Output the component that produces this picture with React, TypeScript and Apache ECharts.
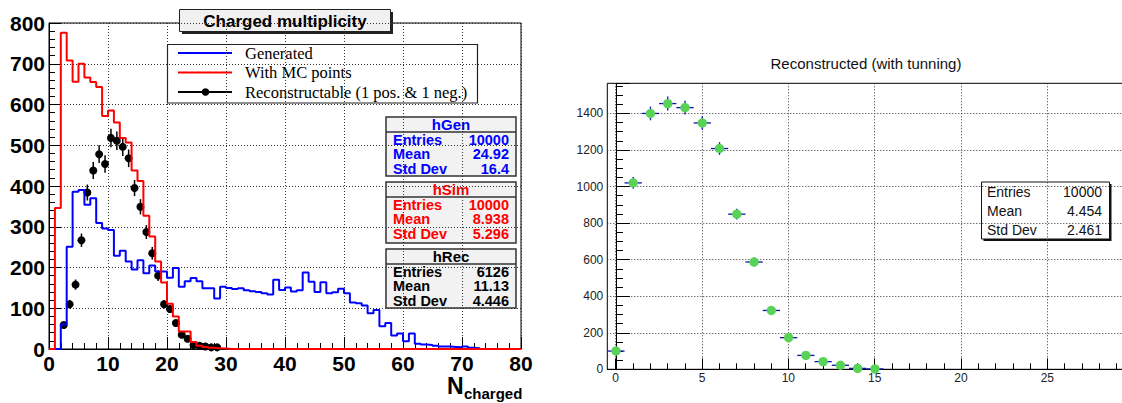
import React, { useEffect, useRef } from 'react';
import * as echarts from 'echarts';

const SANS = "'Liberation Sans', Arial, Helvetica, sans-serif";
const SERIF = "'Liberation Serif', 'Times New Roman', serif";

// ---- Left panel: unit-width bins starting at 0 (0..80) ----
const genCounts = [
  0, 0, 60, 251, 386, 390, 354, 370, 309, 296, 292, 229, 241, 215, 195, 218, 186, 205, 190, 190,
  175, 199, 153, 166, 174, 166, 149, 149, 124, 153, 150, 147, 149, 144, 142, 140, 137, 134, 170, 145,
  151, 141, 144, 188, 165, 140, 164, 137, 139, 148, 137, 114, 112, 107, 88, 96, 56, 64, 33, 38,
  19, 38, 13, 11, 10, 8, 6, 6, 5, 4, 6, 3, 2, 0, 0, 0, 0, 0, 0, 0,
];
const simCounts = [
  0, 346, 776, 708, 656, 700, 666, 655, 643, 572, 585, 556, 518, 507, 438, 412, 327, 276, 215, 163,
  111, 80, 43, 43, 17, 8, 5, 3, 2, 1, 0, 0, 0, 0, 0, 0, 0, 0, 0, 0,
  0, 0, 0, 0, 0, 0, 0, 0, 0, 0, 0, 0, 0, 0, 0, 0, 0, 0, 0, 0,
  0, 0, 0, 0, 0, 0, 0, 0, 0, 0, 0, 0, 0, 0, 0, 0, 0, 0, 0, 0,
];
const recBinStarts = [2, 3, 4, 5, 6, 7, 8, 9, 10, 11, 12, 13, 14, 15, 16, 17, 18, 19, 20, 21, 22, 23, 24, 25, 26, 27, 28];
const recCounts = [59, 110, 158, 267, 384, 438, 478, 454, 518, 511, 496, 468, 395, 349, 287, 235, 180, 110, 98, 64, 35, 25, 10, 8, 6, 4, 4];

const leftTitle = 'Charged multiplicity';
const legendLabels = ['Generated', 'With MC points', 'Reconstructable (1 pos. & 1 neg.)'];
const legendColors = ['#0000ff', '#ff0000', '#000000'];
const statTitles = ['hGen', 'hSim', 'hRec'];
const statColors = ['#0000ff', '#ff0000', '#000000'];
const statEntries = ['10000', '10000', '6126'];
const statMeans = ['24.92', '8.938', '11.13'];
const statStdDevs = ['16.4', '5.296', '4.446'];
const statKeys = ['Entries', 'Mean', 'Std Dev'];

// ---- Right panel ----
const rightTitle = 'Reconstructed (with tunning)';
const tunedX = [0, 1, 2, 3, 4, 5, 6, 7, 8, 9, 10, 11, 12, 13, 14, 15];
const tunedCounts = [100, 1020, 1400, 1454, 1432, 1348, 1208, 849, 587, 322, 173, 76, 42, 22, 5, 2];
const tunedStats = ['10000', '4.454', '2.461'];

const histData = (counts: number[]) => [
  ...counts.map((v, i) => [i, v]),
  [counts.length, counts[counts.length - 1]],
];

function statBox(x: number, y: number, w: number, h: number, i: number) {
  const color = statColors[i];
  const vals = [statEntries[i], statMeans[i], statStdDevs[i]];
  const font = `bold 14.5px ${SANS}`;
  const els: any[] = [
    { type: 'rect', shape: { x, y, width: w, height: h }, style: { fill: '#f2f2f2', stroke: '#333', lineWidth: 1.5 } },
    { type: 'line', shape: { x1: x, y1: y + 15, x2: x + w, y2: y + 15 }, style: { stroke: '#333', lineWidth: 1.5 } },
    {
      type: 'text', x: x + w / 2, y: y + 7.5,
      style: { text: statTitles[i], font: `bold 15px ${SANS}`, lineHeight: 13, fill: color, align: 'center', verticalAlign: 'middle' },
    },
  ];
  statKeys.forEach((k, j) => {
    const ty = y + 22.5 + j * 14.7;
    els.push({ type: 'text', x: x + 7, y: ty, style: { text: k, font, lineHeight: 13, fill: color, align: 'left', verticalAlign: 'middle' } });
    els.push({ type: 'text', x: x + w - 7, y: ty, style: { text: vals[j], font, lineHeight: 13, fill: color, align: 'right', verticalAlign: 'middle' } });
  });
  return els;
}

export default function App() {
  const ref = useRef<HTMLDivElement>(null);
  useEffect(() => {
    document.body.style.margin = '0';
    if (!ref.current) return;
    const chart = echarts.init(ref.current, null, { renderer: 'svg' });

    const dotted = { type: [1, 2], color: '#333', width: 1 };

    const graphics: any[] = [];
    // Left title box
    graphics.push({ type: 'rect', shape: { x: 182, y: 12, width: 211, height: 22 }, style: { fill: '#222' } });
    graphics.push({ type: 'rect', shape: { x: 179.5, y: 9.5, width: 211, height: 22 }, style: { fill: '#f0f0f0', stroke: '#222', lineWidth: 1 } });
    graphics.push({ type: 'text', x: 285, y: 21, style: { text: leftTitle, font: `bold 17px ${SANS}`, fill: '#000', align: 'center', verticalAlign: 'middle' } });
    // Legend
    graphics.push({ type: 'rect', shape: { x: 167.5, y: 44.5, width: 310, height: 58.5 }, style: { fill: '#fff', stroke: '#222', lineWidth: 1.2 } });
    legendLabels.forEach((lab, i) => {
      const ly = 53 + i * 19.5;
      graphics.push({ type: 'line', shape: { x1: 178, y1: ly, x2: 232, y2: ly }, style: { stroke: legendColors[i], lineWidth: 2 } });
      if (i === 2) graphics.push({ type: 'circle', shape: { cx: 205.5, cy: ly, r: 3.8 }, style: { fill: '#000' } });
      graphics.push({ type: 'text', x: 245, y: ly, style: { text: lab, font: `16.5px ${SERIF}`, fill: '#000', align: 'left', verticalAlign: 'middle' } });
    });
    // Stat boxes
    graphics.push(...statBox(386, 117, 130, 59, 0));
    graphics.push(...statBox(386, 182, 130, 61, 1));
    graphics.push(...statBox(386, 249, 130, 59, 2));
    // Axis title N_charged
    graphics.push({ type: 'text', x: 447, y: 385.5, style: { text: 'N', font: `bold 23px ${SANS}`, lineHeight: 17, fill: '#000', align: 'left', verticalAlign: 'middle' } });
    graphics.push({ type: 'text', x: 464, y: 393, style: { text: 'charged', font: `bold 15px ${SANS}`, lineHeight: 14, fill: '#000', align: 'left', verticalAlign: 'middle' } });
    // Right title
    graphics.push({ type: 'text', x: 866, y: 63, style: { text: rightTitle, font: `15px ${SANS}`, fill: '#111', align: 'center', verticalAlign: 'middle' } });
    // Right stats box
    graphics.push({ type: 'rect', shape: { x: 983.5, y: 184, width: 128, height: 57 }, style: { fill: '#111' } });
    graphics.push({ type: 'rect', shape: { x: 981.5, y: 182, width: 128, height: 57 }, style: { fill: '#fff', stroke: '#111', lineWidth: 1 } });
    statKeys.forEach((k, j) => {
      const ty = 192 + j * 18.8;
      graphics.push({ type: 'text', x: 987, y: ty, style: { text: k, font: `14px ${SANS}`, fill: '#111', align: 'left', verticalAlign: 'middle' } });
      graphics.push({ type: 'text', x: 1102, y: ty, style: { text: tunedStats[j], font: `14px ${SANS}`, fill: '#111', align: 'right', verticalAlign: 'middle' } });
    });

    const plain = (v: number) => String(v);
    const leftAxisLabel = { fontSize: 21, fontWeight: 'bold', color: '#000', fontFamily: SANS, formatter: plain };
    const rightAxisLabel = { fontSize: 12, color: '#222', fontFamily: SANS, formatter: plain };

    chart.setOption({
      animation: false,
      backgroundColor: '#fff',
      grid: [
        { left: 49, top: 23, width: 472, height: 326, show: true, borderColor: '#000', borderWidth: 1, backgroundColor: 'transparent', outerBoundsMode: 'none', containLabel: false },
        { left: 607.3, top: 83.3, width: 518, height: 286, show: true, borderColor: '#000', borderWidth: 1, backgroundColor: 'transparent', outerBoundsMode: 'none', containLabel: false },
        { left: 615.7, top: 83.3, width: 518, height: 286, show: false, outerBoundsMode: 'none', containLabel: false },
      ],
      xAxis: [
        {
          gridIndex: 0, type: 'value', min: 0, max: 80, interval: 10,
          axisLine: { show: true, lineStyle: { color: '#000', width: 1 } },
          axisTick: { show: true, inside: true, length: 12, lineStyle: { color: '#000' } },
          minorTick: { show: true, splitNumber: 5, length: 6, lineStyle: { color: '#000' } },
          axisLabel: { ...leftAxisLabel, margin: 6, lineHeight: 17 },
          splitLine: { show: true, lineStyle: dotted },
        },
        {
          gridIndex: 1, type: 'value', min: -0.5, max: 29.5,
          axisLine: { show: true, lineStyle: { color: '#000', width: 1 } },
          axisTick: { show: false }, axisLabel: { show: false }, splitLine: { show: false },
        },
        {
          gridIndex: 2, type: 'value', min: 0, max: 30, interval: 5,
          axisLine: { show: false },
          axisTick: { show: true, inside: true, length: 11, lineStyle: { color: '#000' } },
          minorTick: { show: true, splitNumber: 5, length: 6, lineStyle: { color: '#000' } },
          axisLabel: { ...rightAxisLabel, margin: 3, showMaxLabel: false },
          splitLine: { show: true, lineStyle: dotted },
        },
      ],
      yAxis: [
        {
          gridIndex: 0, type: 'value', min: 0, max: 800, interval: 100,
          axisLine: { show: true, lineStyle: { color: '#000', width: 1 } },
          axisTick: { show: true, inside: true, length: 12, lineStyle: { color: '#000' } },
          minorTick: { show: true, splitNumber: 5, length: 6, lineStyle: { color: '#000' } },
          axisLabel: { ...leftAxisLabel, margin: 4 },
          splitLine: { show: true, lineStyle: dotted },
        },
        {
          gridIndex: 1, type: 'value', min: 0, max: 1565, interval: 200,
          axisLine: { show: true, lineStyle: { color: '#000', width: 1 } },
          axisTick: { show: true, inside: true, length: 14, lineStyle: { color: '#000' } },
          minorTick: { show: true, splitNumber: 4, length: 7, lineStyle: { color: '#000' } },
          axisLabel: { ...rightAxisLabel, margin: 4, showMaxLabel: false },
          splitLine: { show: true, lineStyle: dotted },
        },
        { gridIndex: 2, type: 'value', min: 0, max: 1565, show: false },
      ],
      series: [
        {
          type: 'line', xAxisIndex: 0, yAxisIndex: 0, step: 'end', symbol: 'none', clip: false,
          data: histData(genCounts), lineStyle: { color: '#0000ff', width: 2 },
        },
        {
          type: 'line', xAxisIndex: 0, yAxisIndex: 0, step: 'end', symbol: 'none', clip: false,
          data: histData(simCounts), lineStyle: { color: '#ff0000', width: 2 },
        },
        {
          type: 'custom', xAxisIndex: 0, yAxisIndex: 0, clip: false,
          data: recBinStarts.map((b, i) => [b + 0.5, recCounts[i]]),
          encode: { x: 0, y: 1 },
          renderItem: (params: any, api: any) => {
            const x = api.value(0);
            const v = api.value(1);
            const e = Math.sqrt(v);
            const c = api.coord([x, v]);
            const t = api.coord([x, v + e]);
            const b = api.coord([x, Math.max(0, v - e)]);
            return {
              type: 'group',
              children: [
                { type: 'line', shape: { x1: c[0], y1: t[1], x2: c[0], y2: b[1] }, style: { stroke: '#000', lineWidth: 1.5 } },
                { type: 'circle', shape: { cx: c[0], cy: c[1], r: 4 }, style: { fill: '#000' } },
              ],
            };
          },
        },
        {
          type: 'custom', xAxisIndex: 1, yAxisIndex: 1, clip: false,
          data: tunedX.map((x, i) => [x, tunedCounts[i]]),
          encode: { x: 0, y: 1 },
          renderItem: (params: any, api: any) => {
            const x = api.value(0);
            const v = api.value(1);
            const e = Math.sqrt(v);
            const c = api.coord([x, v]);
            const l = api.coord([x - 0.5, v]);
            const r = api.coord([x + 0.5, v]);
            const t = api.coord([x, v + e]);
            const b = api.coord([x, Math.max(0, v - e)]);
            return {
              type: 'group',
              children: [
                { type: 'line', shape: { x1: l[0], y1: c[1], x2: r[0], y2: c[1] }, style: { stroke: '#1010b0', lineWidth: 1.3 } },
                { type: 'line', shape: { x1: c[0], y1: t[1], x2: c[0], y2: b[1] }, style: { stroke: '#1010b0', lineWidth: 1.3 } },
                { type: 'circle', shape: { cx: c[0], cy: c[1], r: 4.7 }, style: { fill: '#58d358' } },
              ],
            };
          },
        },
      ],
      graphic: graphics,
    });
    return () => chart.dispose();
  }, []);
  return <div ref={ref} style={{ width: 1122, height: 403 }} />;
}
